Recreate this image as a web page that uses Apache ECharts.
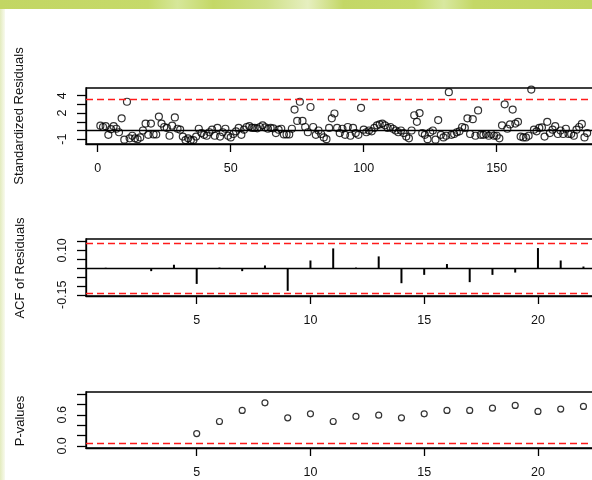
<!DOCTYPE html>
<html>
<head>
<meta charset="utf-8">
<script src="https://cdn.jsdelivr.net/npm/echarts@6/dist/echarts.min.js"></script>
<style>
  html, body { margin: 0; padding: 0; background: #fff; }
  #chart { width: 592px; height: 480px; }
</style>
</head>
<body>
<div id="chart"></div>
<script>
// Standardized residuals of the fitted model, in time order (t = 1..184)
const residuals = [
  0.55, 0.4, 0.5, -0.5, 0.15, 0.5, 0.2, -0.2, 1.4, -1.05,
  3.3, -0.9, -0.6, -0.9, -1.0, -0.8, 0.0, 0.8, -0.5, 0.8,
  -0.45, -0.45, 1.6, 0.8, 0.4, 0.3, -0.6, 0.55, 1.5, 0.2,
  0.1, -0.7, -1.1, -0.9, -1.1, -1.1, -0.7, 0.2, -0.3, -0.5,
  -0.6, -0.2, 0.1, -0.6, 0.3, -0.7, -0.2, 0.2, -0.6, -0.8,
  -0.4, -0.1, 0.3, -0.5, 0.1, 0.4, 0.5, 0.3, 0.3, 0.25,
  0.4, 0.6, 0.35, 0.2, 0.3, 0.25, -0.3, 0.1, 0.2, -0.45,
  -0.45, -0.45, 0.2, 2.4, 1.1, 3.3, 1.1, 0.4, -0.2, 2.7,
  0.4, -0.5, 0.0, -0.4, -0.8, -1.0, 0.3, 1.4, 1.95, 0.3,
  -0.3, 0.2, -0.5, 0.4, -0.6, 0.3, -0.3, -0.5, 2.6, 0.1,
  -0.2, 0.0, -0.1, 0.3, 0.6, 0.7, 0.8, 0.6, 0.3, 0.4,
  0.2, 0.0, -0.2, 0.0, -0.3, -0.7, -0.9, 0.0, 1.75, 1.0,
  2.0, -0.3, -0.5, -1.0, -0.2, 0.0, -1.05, 1.2, -0.5, -0.8,
  -0.6, 4.4, -0.5, -0.4, -0.2, -0.1, 0.4, 0.3, 1.4, -0.4,
  1.3, -0.6, 2.3, -0.5, -0.5, -0.4, -0.6, -0.4, -0.6, -0.6,
  -0.9, 0.6, 3.0, 0.2, 0.7, 2.4, 0.8, 1.0, -0.7, -0.8,
  -0.8, -0.6, 4.7, 0.1, -0.1, 0.3, 0.35, -0.7, 1.0, -0.3,
  0.1, 0.5, -0.4, 0.0, -0.4, 0.2, -0.4, -0.4, -0.6, 0.1,
  0.4, 0.75, -0.8, -0.3
];
const residualBound = 3.55;          // Bonferroni outlier bound (dashed red)

// Residual autocorrelations by lag
const acfLags = [1, 2, 3, 4, 5, 6, 7, 8, 9, 10, 11, 12, 13, 14, 15, 16, 17, 18, 19, 20, 21, 22];
const acfValues = [0.002, -0.003, -0.017, 0.019, -0.089, 0.003, -0.017, 0.015, -0.128, 0.043,
                   0.111, 0.003, 0.066, -0.085, -0.038, 0.023, -0.079, -0.038, -0.025, 0.113,
                   0.043, 0.009];
const acfBound = 0.1445;             // 1.96 / sqrt(n)

// Ljung-Box p-values by lag
const pLags = [5, 6, 7, 8, 9, 10, 11, 12, 13, 14, 15, 16, 17, 18, 19, 20, 21, 22];
const pValues = [0.239, 0.471, 0.684, 0.832, 0.542, 0.619, 0.471, 0.568, 0.594, 0.542,
                 0.619, 0.684, 0.684, 0.729, 0.781, 0.665, 0.710, 0.761];
const pLevel = 0.05;

// Tick positions and the subset of them that carry labels
const timeTicks = [0, 50, 100, 150];
const residTicks = [-1, 0, 1, 2, 3, 4];
const residLabels = [-1, 2, 4];
const lagTicks = [5, 10, 15, 20];
const acfTicks = [-0.15, -0.10, -0.05, 0, 0.05, 0.10, 0.15];
const acfLabels = [-0.15, 0.10];
const pTicks = [0, 0.2, 0.4, 0.6, 0.8, 1.0];
const pLabels = [0, 0.6];

const FONT = 'Liberation Sans, Arial, sans-serif';
const INK = '#000';

// Plot boxes run past the right edge of the canvas
const gridBase = { left: 86, width: 540, show: true, borderColor: INK, borderWidth: 1.3,
                   containLabel: false, outerBoundsMode: 'none' };

function xAxisDef(idx, min, max, ticks) {
  return {
    type: 'value', gridIndex: idx, min: min, max: max,
    splitLine: { show: false },
    axisLine: { show: true, onZero: false, lineStyle: { color: INK, width: 1.3 } },
    axisTick: { show: true, length: 8, lineStyle: { color: INK, width: 1.3 }, customValues: ticks },
    axisLabel: { customValues: ticks, margin: 18, fontSize: 12.5, color: '#111', fontFamily: FONT }
  };
}
function yAxisDef(idx, min, max, ticks, labels, fmt) {
  return {
    type: 'value', gridIndex: idx, min: min, max: max,
    splitLine: { show: false },
    axisLine: { show: true, onZero: false, lineStyle: { color: INK, width: 1.3 } },
    axisTick: { show: true, length: 9, lineStyle: { color: INK, width: 1.3 }, customValues: ticks },
    axisLabel: { customValues: labels, rotate: 90, margin: 17, fontSize: 12.5, color: '#111',
                 fontFamily: FONT, formatter: fmt }
  };
}
function hLine(y, dashed) {
  return {
    yAxis: y,
    lineStyle: dashed ? { color: '#ff1a1a', type: [7, 4], width: 1.4 } : { color: INK, type: 'solid', width: 1.3 }
  };
}
const markLineBase = { silent: true, symbol: 'none', label: { show: false }, emphasis: { disabled: true }, animation: false };

const option = {
  animation: false,
  backgroundColor: '#fff',
  graphic: [
    { type: 'rect', shape: { x: 0, y: 0, width: 592, height: 9 }, silent: true,
      style: { fill: new echarts.graphic.LinearGradient(0, 0, 1, 0, [
        { offset: 0, color: '#c2d663' }, { offset: 0.25, color: '#c6da6a' },
        { offset: 0.3, color: '#d6e79a' }, { offset: 0.36, color: '#c4d866' },
        { offset: 0.45, color: '#cfe088' }, { offset: 0.52, color: '#e6efc0' },
        { offset: 0.58, color: '#c3d766' }, { offset: 0.7, color: '#c7db6c' },
        { offset: 0.75, color: '#d8e8a0' }, { offset: 0.8, color: '#c4d866' },
        { offset: 1, color: '#c2d663' }]) } },
    { type: 'rect', shape: { x: 0, y: 9, width: 5, height: 471 }, silent: true,
      style: { fill: new echarts.graphic.LinearGradient(0, 0, 1, 0, [
        { offset: 0, color: '#e3ebbe' }, { offset: 1, color: '#f8faee' }]) } },
    { type: 'text', x: 19.5, y: 116, rotation: Math.PI / 2, silent: true,
      style: { text: 'Standardized Residuals', fontSize: 13, fontFamily: FONT, fill: '#111',
               align: 'center', verticalAlign: 'middle' } },
    { type: 'text', x: 20.5, y: 268, rotation: Math.PI / 2, silent: true,
      style: { text: 'ACF of Residuals', fontSize: 13, fontFamily: FONT, fill: '#111',
               align: 'center', verticalAlign: 'middle' } },
    { type: 'text', x: 20, y: 421, rotation: Math.PI / 2, silent: true,
      style: { text: 'P-values', fontSize: 13, fontFamily: FONT, fill: '#111',
               align: 'center', verticalAlign: 'middle' } }
  ],
  grid: [
    Object.assign({ top: 88, height: 56 }, gridBase),
    Object.assign({ top: 239, height: 57 }, gridBase),
    Object.assign({ top: 392, height: 56 }, gridBase)
  ],
  xAxis: [
    xAxisDef(0, -4.4, -4.4 + 540 / 2.66, timeTicks),
    xAxisDef(1, 0.134, 0.134 + 540 / 22.75, lagTicks),
    xAxisDef(2, 0.134, 0.134 + 540 / 22.75, lagTicks)
  ],
  yAxis: [
    yAxisDef(0, -1.55, 4.88, residTicks, residLabels, v => String(Math.round(v))),
    yAxisDef(1, -0.157, 0.164, acfTicks, acfLabels, v => v.toFixed(2)),
    yAxisDef(2, -0.04, 1.04, pTicks, pLabels, v => v.toFixed(1))
  ],
  series: [
    {
      type: 'scatter', xAxisIndex: 0, yAxisIndex: 0,
      data: residuals.map((v, i) => [i + 1, v]),
      symbol: 'circle', symbolSize: 7,
      itemStyle: { color: 'rgba(0,0,0,0)', borderColor: INK, borderWidth: 1.2 },
      markLine: Object.assign({ data: [hLine(0, false), hLine(residualBound, true)] }, markLineBase)
    },
    {
      type: 'bar', xAxisIndex: 1, yAxisIndex: 1,
      data: acfLags.map((l, i) => [l, acfValues[i]]),
      barWidth: 2,
      itemStyle: { color: INK },
      markLine: Object.assign({ data: [hLine(0, false), hLine(acfBound, true), hLine(-acfBound, true)] }, markLineBase)
    },
    {
      type: 'scatter', xAxisIndex: 2, yAxisIndex: 2,
      data: pLags.map((l, i) => [l, pValues[i]]),
      symbol: 'circle', symbolSize: 6,
      itemStyle: { color: 'rgba(0,0,0,0)', borderColor: INK, borderWidth: 1.2 },
      markLine: Object.assign({ data: [hLine(pLevel, true)] }, markLineBase)
    }
  ]
};

const chart = echarts.init(document.getElementById('chart'), null, { renderer: 'canvas' });
chart.setOption(option);
</script>
</body>
</html>
